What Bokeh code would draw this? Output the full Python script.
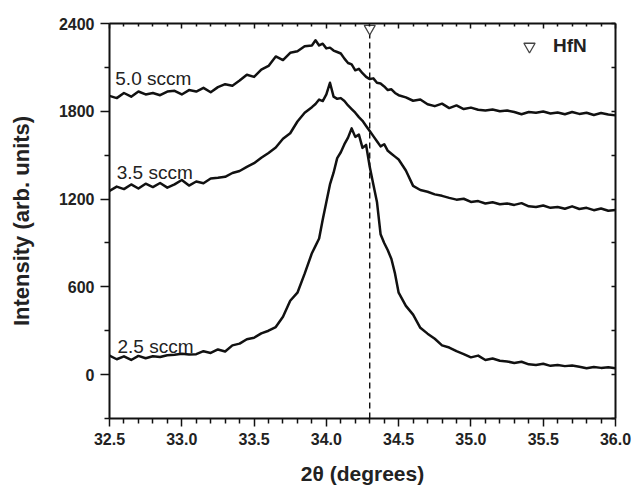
from bokeh.plotting import figure
from bokeh.models import (LinearAxis, FixedTicker, PrintfTickFormatter, Range1d,
                          Legend, LegendItem)
from bokeh.core.properties import value
from bokeh.embed import file_html
from bokeh.resources import INLINE

# ---------------- data ----------------
two_theta = [32.50, 32.55, 32.60, 32.65, 32.70, 32.75, 32.80, 32.85, 32.90, 32.95,
             33.00, 33.05, 33.10, 33.15, 33.20, 33.25, 33.30, 33.35, 33.40, 33.45,
             33.50, 33.55, 33.60, 33.65, 33.70, 33.75, 33.80, 33.85, 33.90,
             33.925, 33.95, 33.975, 34.00, 34.025, 34.05, 34.075, 34.10, 34.125, 34.15,
             34.175, 34.20, 34.225, 34.25, 34.275, 34.30, 34.325, 34.35, 34.375, 34.40,
             34.425, 34.45, 34.475, 34.50,
             34.55, 34.60, 34.65, 34.70, 34.75, 34.80, 34.85, 34.90, 34.95,
             35.00, 35.05, 35.10, 35.15, 35.20, 35.25, 35.30, 35.35, 35.40, 35.45,
             35.50, 35.55, 35.60, 35.65, 35.70, 35.75, 35.80, 35.85, 35.90, 35.95,
             36.00]

intensity_25 = [130, 105, 125, 100, 128, 112, 126, 120, 132, 136,
                142, 138, 140, 160, 148, 172, 158, 200, 212, 242,
                252, 282, 300, 325, 395, 505, 560, 690, 830,
                880, 930, 1060, 1180, 1300, 1380, 1480, 1520, 1575, 1620,
                1683, 1625, 1640, 1550, 1570, 1420, 1300, 1180, 960, 900,
                850, 790, 690, 560,
                470, 410, 320, 280, 245, 200, 185, 160, 140,
                118, 130, 100, 110, 95, 90, 80, 88, 70, 66,
                74, 60, 65, 58, 62, 54, 44, 52, 46, 50,
                44]

intensity_35 = [1255, 1285, 1268, 1300, 1272, 1305, 1282, 1310, 1278, 1300,
                1330, 1292, 1320, 1308, 1340, 1345, 1352, 1378, 1392, 1420,
                1445, 1482, 1515, 1552, 1612, 1650, 1730, 1790, 1828,
                1850, 1880, 1870, 1915, 1995, 1900, 1885, 1890, 1870, 1840,
                1815, 1790, 1760, 1735, 1700, 1665, 1630, 1595, 1560, 1575,
                1530, 1510, 1490, 1470,
                1395, 1290, 1262, 1250, 1232, 1222, 1208, 1196, 1202,
                1180, 1186, 1170, 1178, 1165, 1170, 1160, 1172, 1150, 1146,
                1156, 1140, 1146, 1134, 1150, 1132, 1140, 1124, 1135, 1120,
                1125]

intensity_50 = [1905, 1890, 1925, 1900, 1935, 1915, 1925, 1910, 1935, 1940,
                1915, 1945, 1935, 1960, 1930, 1965, 1985, 1975, 2010, 2050,
                2035, 2085, 2110, 2175, 2150, 2200, 2210, 2245, 2250,
                2285, 2250, 2262, 2230, 2235, 2215, 2205, 2195, 2160, 2130,
                2120, 2080, 2090, 2060, 2035, 2020, 2025, 1995, 1990, 1970,
                1945, 1950, 1925, 1910,
                1895, 1872, 1880, 1848, 1835, 1852, 1822, 1840, 1815,
                1825, 1810, 1805, 1812, 1800, 1805, 1795, 1780, 1795, 1790,
                1798, 1785, 1792, 1780, 1795, 1782, 1790, 1775, 1788, 1778,
                1772]

series_names = ["2.5 sccm", "3.5 sccm", "5.0 sccm"]
label_x = [32.555, 32.55, 32.54]
label_y = [192, 1382, 2025]

hfn_peak = [34.30]          # HfN reference reflection (2theta)
hfn_marker_level = [2365]   # marker drawn at the top of the frame
hfn_line_bottom = [-300]
hfn_line_top = [2330]

x_major = [32.5, 33.0, 33.5, 34.0, 34.5, 35.0, 35.5, 36.0]
x_minor = [32.6, 32.7, 32.8, 32.9, 33.1, 33.2, 33.3, 33.4, 33.6, 33.7, 33.8, 33.9,
           34.1, 34.2, 34.3, 34.4, 34.6, 34.7, 34.8, 34.9, 35.1, 35.2, 35.3, 35.4,
           35.6, 35.7, 35.8, 35.9]
y_major = [0, 600, 1200, 1800, 2400]
y_minor = [-300, 300, 900, 1500, 2100]

FONT = "Liberation Sans"
INK = "#111111"

p = figure(width=634, height=487,
           x_range=Range1d(32.5, 36.0), y_range=Range1d(-300, 2400),
           output_backend="svg", toolbar_location=None,
           min_border_left=109, min_border_right=19,
           min_border_top=23, min_border_bottom=69,
           x_axis_location=None, y_axis_location=None)
p.outline_line_color = None
p.xgrid.visible = False
p.ygrid.visible = False
p.background_fill_color = "white"
p.border_fill_color = "white"

# curves
for ys in (intensity_25, intensity_35, intensity_50):
    p.line(two_theta, ys, line_color=INK, line_width=2.5, line_join="round")

# HfN reference line + marker
p.segment(x0=hfn_peak, y0=hfn_line_bottom, x1=hfn_peak, y1=hfn_line_top,
          line_color=INK, line_width=1.4, line_dash="6 4")
tri = p.scatter(x=hfn_peak, y=hfn_marker_level, marker="inverted_triangle", size=11,
                fill_color="white", line_color="#444444", line_width=1.3)

# series labels
p.text(x=label_x, y=label_y, text=series_names, text_font=value(FONT),
       text_font_size="19px", text_color="#222222", text_baseline="alphabetic",
       text_align="left")

# axes
def style(ax):
    ax.axis_line_color = INK
    ax.axis_line_width = 2
    ax.major_tick_line_color = INK
    ax.minor_tick_line_color = INK
    ax.major_tick_line_width = 1.5
    ax.minor_tick_line_width = 1.5

xb = LinearAxis(ticker=FixedTicker(ticks=x_major, minor_ticks=x_minor),
                formatter=PrintfTickFormatter(format="%.1f"),
                axis_label="2θ (degrees)")
style(xb)
xb.major_tick_out = 8
xb.major_tick_in = 0
xb.minor_tick_out = 5
xb.minor_tick_in = 0
xb.major_label_standoff = 6
xb.major_label_text_font = FONT
xb.major_label_text_font_style = "bold"
xb.major_label_text_font_size = "16px"
xb.major_label_text_color = "#222222"
xb.axis_label_text_font = FONT
xb.axis_label_text_font_style = "bold"
xb.axis_label_text_font_size = "21px"
xb.axis_label_text_color = "#222222"
xb.axis_label_standoff = 14
p.add_layout(xb, "below")

yl = LinearAxis(ticker=FixedTicker(ticks=y_major, minor_ticks=y_minor),
                formatter=PrintfTickFormatter(format="%d"),
                axis_label="Intensity (arb. units)")
style(yl)
yl.major_tick_out = 9
yl.major_tick_in = 0
yl.minor_tick_out = 5
yl.minor_tick_in = 0
yl.major_label_standoff = 6
yl.major_label_text_font = FONT
yl.major_label_text_font_style = "bold"
yl.major_label_text_font_size = "16px"
yl.major_label_text_color = "#222222"
yl.axis_label_text_font = FONT
yl.axis_label_text_font_style = "bold"
yl.axis_label_text_font_size = "22px"
yl.axis_label_text_color = "#222222"
yl.axis_label_standoff = 22
p.add_layout(yl, "left")

xt = LinearAxis(ticker=FixedTicker(ticks=x_major, minor_ticks=x_minor))
style(xt)
xt.major_tick_out = 0
xt.major_tick_in = 5
xt.minor_tick_out = 0
xt.minor_tick_in = 3
xt.major_label_overrides = {t: "" for t in x_major}
xt.major_label_standoff = 0
p.add_layout(xt, "above")

yr_ticks = sorted(y_minor + y_major)
yr = LinearAxis(ticker=FixedTicker(ticks=yr_ticks, minor_ticks=[]))
style(yr)
yr.major_tick_out = 0
yr.major_tick_in = 4
yr.minor_tick_out = 0
yr.minor_tick_in = 0
yr.major_label_overrides = {t: "" for t in yr_ticks}
yr.major_label_standoff = 0
p.add_layout(yr, "right")

legend = Legend(items=[LegendItem(label="HfN", renderers=[tri])],
                location=(406, 358), orientation="vertical",
                padding=0, margin=0, spacing=0,
                glyph_width=28, glyph_height=28, label_height=28,
                label_standoff=10,
                label_text_font=FONT, label_text_font_style="bold",
                label_text_font_size="19px", label_text_color="#222222",
                border_line_color=None, background_fill_alpha=0)
p.add_layout(legend)

open("out.html", "w").write(file_html(p, INLINE))
